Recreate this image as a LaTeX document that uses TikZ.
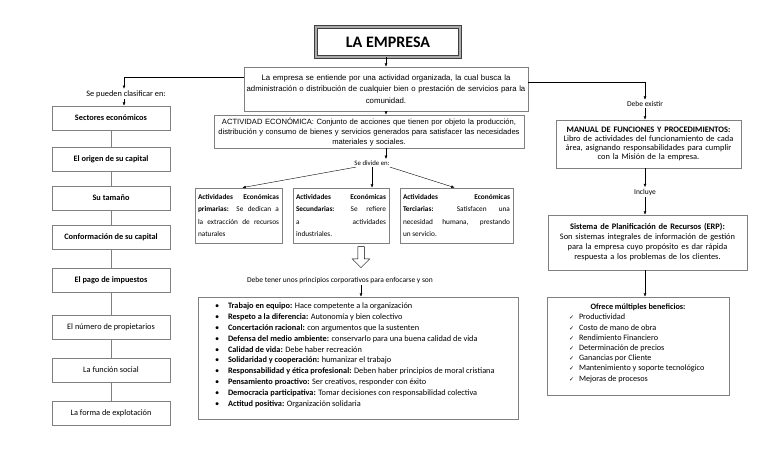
\documentclass[tikz,border=0pt]{standalone}
\usepackage{fontspec}
\setmainfont{Carlito}
\newfontfamily\arialfont{Liberation Sans}
\newfontfamily\symfont{DejaVu Sans}
\usetikzlibrary{arrows.meta, shapes.arrows}
\tikzset{>={Latex[length=3.2pt,width=2.8pt]}}
\definecolor{boxgray}{RGB}{128,128,128}
\definecolor{titlegray}{RGB}{170,170,170}

\tikzset{
  caja/.style={draw=boxgray, line width=0.8pt, fill=white, inner sep=0pt, align=center},
  izq/.style={caja, minimum width=118pt, minimum height=24pt, font=\fontsize{8.3}{9}\selectfont},
  tipo/.style={caja, align=justify, inner xsep=3pt, minimum height=55pt, font=\fontsize{7.3}{12.2}\selectfont},
  rotulo/.style={inner sep=1.5pt, font=\fontsize{7.5}{8}\selectfont},
}
\newcommand{\vineta}[2]{\hspace*{14pt}\makebox[13pt][l]{\textbullet}\textbf{#1} #2\par}
\newcommand{\marca}[1]{\hspace*{19pt}\makebox[10pt][l]{\symfont\fontsize{6}{6}\selectfont ✓}#1\par}

\begin{document}
\begin{tikzpicture}[x=1pt, y=-1pt]
\useasboundingbox (0,0) rectangle (768,466);

% titulo y definicion
\node[draw=black!75, double=titlegray, double distance=1.6pt, line width=0.8pt,
      minimum width=144pt, minimum height=30pt, font=\bfseries\fontsize{16}{18}\selectfont] (titulo) at (388,42) {LA EMPRESA};
\node[caja, text width=284pt, minimum height=44pt, font=\arialfont\fontsize{7.8}{11.5}\selectfont] (empresa) at (386,89)
  {La empresa se entiende por una actividad organizada, la cual busca la\\
   administración o distribución de cualquier bien o prestación de servicios para la\\
   comunidad.};
\draw[->] (titulo.south -| empresa) -- (empresa.north);

% columna izquierda
\node[rotulo, font=\fontsize{8.3}{9}\selectfont] (clasif) at (126,94) {Se pueden clasificar en:};
\coordinate (esqizq) at (124,77);
\draw[->] (empresa.west |- esqizq) -| (esqizq |- clasif.north);
\foreach \n/\y/\t in {1/118/{\textbf{Sectores económicos}}, 2/159/{\textbf{El origen de su capital}},
    3/198/{\textbf{Su tamaño}}, 4/237/{\textbf{Conformación de su capital}},
    5/280/{\textbf{El pago de impuestos}}, 6/327/{El número de propietarios},
    7/370/{La función social}, 8/413/{La forma de explotación}}
  \node[izq] (iz\n) at (111,\y) {\t};
\draw[->] (esqizq |- clasif.south) -- (esqizq |- iz1.north);
\foreach \a/\b in {1/2, 2/3, 3/4, 4/5, 5/6, 6/7, 7/8}
  \draw[boxgray, line width=0.8pt] (iz\a) -- (iz\b);

% actividad economica
\node[caja, text width=310pt, minimum height=33pt, font=\arialfont\fontsize{7.6}{10}\selectfont] (actividad) at (369,131.5)
  {ACTIVIDAD ECONÓMICA: Conjunto de acciones que tienen por objeto la producción,\\
   distribución y consumo de bienes y servicios generados para satisfacer las necesidades\\
   materiales y sociales.};
\draw[->] (empresa.south) -- (empresa.south |- actividad.north);
\node[rotulo, font=\fontsize{6.8}{8}\selectfont] (divide) at (372,163) {Se divide en:};
\draw[->] (empresa.south |- actividad.south) -- (empresa.south |- divide.north);

\node[tipo, text width=81pt] (primarias) at (238.5,215.5)
  {\textbf{Actividades Económicas\linebreak primarias:} Se dedican a\linebreak la extracción de recursos\linebreak naturales};
\node[tipo, text width=90pt] (secundarias) at (341,215.5)
  {\textbf{Actividades Económicas\linebreak Secundarias:} Se refiere\linebreak a actividades\linebreak industriales.};
\node[tipo, text width=107pt] (terciarias) at (456.5,215.5)
  {\textbf{Actividades Económicas\linebreak Terciarias:} Satisfacen una\linebreak necesidad humana, prestando\linebreak un servicio.};
\draw[->] ([xshift=-16pt]divide.south) -- ([xshift=4pt]primarias.north);
\draw[->] (divide.south) -- (divide.south |- secundarias.north);
\draw[->] ([xshift=18pt]divide.south) -- ([xshift=-2pt]terciarias.north);

% principios
\node[single arrow, draw=black, line width=0.5pt, fill=white, shape border rotate=270,
      minimum height=21pt, inner sep=3pt, single arrow head extend=5.5pt] (flecha) at (361,255.5) {};
\node[rotulo] (principios) at (340,280) {Debe tener unos principios corporativos para enfocarse y son};
\node[caja, minimum width=320pt, minimum height=122pt] (lista) at (358,358)
  {\parbox[c][116pt][t]{314pt}{\fontsize{8.3}{10.8}\selectfont\raggedright\vspace*{3pt}
   \vineta{Trabajo en equipo:}{Hace competente a la organización}
   \vineta{Respeto a la diferencia:}{Autonomía y bien colectivo}
   \vineta{Concertación racional:}{con argumentos que la sustenten}
   \vineta{Defensa del medio ambiente:}{conservarlo para una buena calidad de vida}
   \vineta{Calidad de vida:}{Debe haber recreación}
   \vineta{Solidaridad y cooperación:}{humanizar el trabajo}
   \vineta{Responsabilidad y ética profesional:}{Deben haber principios de moral cristiana}
   \vineta{Pensamiento proactivo:}{Ser creativos, responder con éxito}
   \vineta{Democracia participativa:}{Tomar decisiones con responsabilidad colectiva}
   \vineta{Actitud positiva:}{Organización solidaria}}};
\draw[->] (flecha |- principios.south) -- (flecha |- lista.north);

% columna derecha
\node[rotulo] (existir) at (645,104) {Debe existir};
\coordinate (esqder) at (645,82);
\draw[->] (empresa.east |- esqder) -| (existir.north);
\node[caja, text width=185pt, minimum height=48pt, font=\fontsize{8.4}{9}\selectfont] (manual) at (648.5,144)
  {\textbf{MANUAL DE FUNCIONES Y PROCEDIMIENTOS:}\\
   Libro de actividades del funcionamiento de cada\\
   área, asignando responsabilidades para cumplir\\
   con la Misión de la empresa.};
\draw[->] (existir.south) -- (existir.south |- manual.north);
\node[rotulo] (incluye) at (645,192) {Incluye};
\draw[->] (incluye |- manual.south) -- (incluye.north);
\node[caja, text width=199pt, minimum height=55pt, font=\fontsize{8.4}{10}\selectfont] (erp) at (647.5,242.5)
  {\textbf{Sistema de Planificación de Recursos (ERP):}\\
   Son sistemas integrales de información de gestión\\
   para la empresa cuyo propósito es dar rápida\\
   respuesta a los problemas de los clientes.};
\draw[->] (incluye.south) -- (incluye.south |- erp.north);
\node[caja, minimum width=182pt, minimum height=98pt] (beneficios) at (638,346)
  {\parbox[c][92pt][t]{176pt}{\fontsize{8.2}{10.2}\selectfont\vspace*{4pt}\centering\textbf{Ofrece múltiples beneficios:}\par\raggedright
   \marca{Productividad}
   \marca{Costo de mano de obra}
   \marca{Rendimiento Financiero}
   \marca{Determinación de precios}
   \marca{Ganancias por Cliente}
   \marca{Mantenimiento y soporte tecnológico}
   \marca{Mejoras de procesos}}};
\draw[->] (incluye |- erp.south) -- (incluye |- beneficios.north);

\end{tikzpicture}
\end{document}
